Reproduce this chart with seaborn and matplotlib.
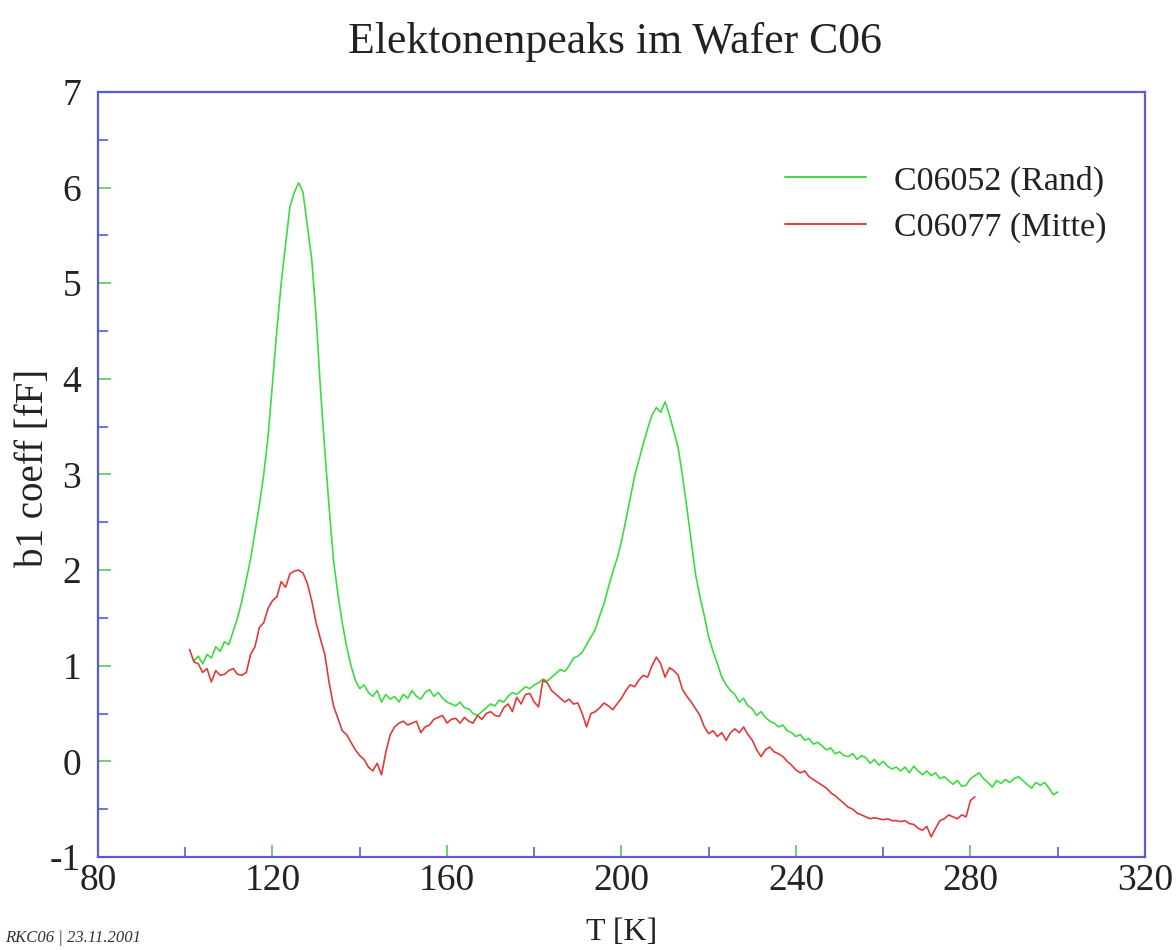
import numpy as np
import pandas as pd
import matplotlib
matplotlib.use("Agg")
import matplotlib.pyplot as plt
import seaborn as sns
from matplotlib.ticker import MultipleLocator

# ---- data ----
T_green = list(range(102, 301))
b1_green = [
    1.05, 1.10, 1.02, 1.12, 1.08, 1.20, 1.15, 1.25, 1.22, 1.36,   # 102-111
    1.50, 1.68, 1.90, 2.12, 2.40, 2.68, 3.00, 3.40, 3.95, 4.50,   # 112-121
    5.00, 5.40, 5.80, 5.95, 6.05, 5.95, 5.60, 5.25, 4.65, 3.90,   # 122-131
    3.25, 2.65, 2.10, 1.75, 1.45, 1.20, 1.00, 0.85, 0.76, 0.80,   # 132-141
    0.72, 0.68, 0.74, 0.62, 0.70, 0.65, 0.68, 0.62, 0.70, 0.66,   # 142-151
    0.74, 0.68, 0.65, 0.72, 0.75, 0.68, 0.72, 0.66, 0.62, 0.60,   # 152-161
    0.58, 0.62, 0.56, 0.55, 0.50, 0.48, 0.52, 0.56, 0.60, 0.58,   # 162-171
    0.64, 0.62, 0.68, 0.72, 0.70, 0.74, 0.78, 0.76, 0.80, 0.82,   # 172-181
    0.86, 0.84, 0.88, 0.92, 0.96, 0.94, 1.00, 1.08, 1.10, 1.14,   # 182-191
    1.22, 1.30, 1.38, 1.52, 1.65, 1.82, 1.98, 2.12, 2.30, 2.52,   # 192-201
    2.75, 2.98, 3.15, 3.32, 3.48, 3.62, 3.70, 3.65, 3.76, 3.62,   # 202-211
    3.45, 3.28, 2.98, 2.65, 2.30, 1.95, 1.72, 1.52, 1.30, 1.15,   # 212-221
    1.02, 0.88, 0.80, 0.74, 0.70, 0.62, 0.66, 0.58, 0.55, 0.48,   # 222-231
    0.52, 0.46, 0.42, 0.40, 0.36, 0.38, 0.32, 0.30, 0.26, 0.28,   # 232-241
    0.22, 0.24, 0.18, 0.20, 0.16, 0.12, 0.14, 0.08, 0.10, 0.06,   # 242-251
    0.05, 0.08, 0.02, 0.06, 0.04, -0.02, 0.02, -0.04, 0.00, -0.05,  # 252-261
    -0.08, -0.06, -0.10, -0.06, -0.12, -0.05, -0.10, -0.14, -0.10, -0.15,  # 262-271
    -0.12, -0.18, -0.16, -0.20, -0.24, -0.20, -0.26, -0.25, -0.18, -0.15,  # 272-281
    -0.12, -0.18, -0.22, -0.27, -0.20, -0.23, -0.19, -0.22, -0.18, -0.16,  # 282-291
    -0.20, -0.24, -0.28, -0.22, -0.25, -0.22, -0.28, -0.35, -0.32,         # 292-300
]

T_red = list(range(101, 282))
b1_red = [
    1.17, 1.04, 1.02, 0.93, 0.97, 0.83, 0.95, 0.90, 0.91, 0.95,   # 101-110
    0.97, 0.91, 0.90, 0.93, 1.12, 1.20, 1.40, 1.45, 1.60, 1.68,   # 111-120
    1.72, 1.88, 1.82, 1.96, 1.99, 2.00, 1.97, 1.86, 1.68, 1.45,   # 121-130
    1.28, 1.12, 0.82, 0.58, 0.45, 0.32, 0.28, 0.20, 0.12, 0.06,   # 131-140
    0.02, -0.06, -0.10, -0.02, -0.14, 0.10, 0.28, 0.36, 0.40, 0.42,  # 141-150
    0.38, 0.40, 0.42, 0.30, 0.36, 0.38, 0.44, 0.46, 0.48, 0.40,   # 151-160
    0.44, 0.45, 0.40, 0.46, 0.42, 0.40, 0.48, 0.44, 0.50, 0.52,   # 161-170
    0.48, 0.47, 0.56, 0.60, 0.52, 0.67, 0.60, 0.70, 0.71, 0.62,   # 171-180
    0.57, 0.85, 0.82, 0.74, 0.70, 0.66, 0.62, 0.65, 0.60, 0.61,   # 181-190
    0.50, 0.36, 0.50, 0.52, 0.56, 0.61, 0.58, 0.54, 0.60, 0.66,   # 191-200
    0.74, 0.80, 0.78, 0.85, 0.90, 0.88, 1.00, 1.09, 1.02, 0.88,   # 201-210
    0.98, 0.95, 0.90, 0.75, 0.68, 0.62, 0.55, 0.48, 0.36, 0.29,   # 211-220
    0.32, 0.26, 0.30, 0.22, 0.30, 0.34, 0.30, 0.36, 0.28, 0.22,   # 221-230
    0.12, 0.05, 0.12, 0.15, 0.10, 0.08, 0.05, 0.00, -0.04, -0.09,  # 231-240
    -0.12, -0.10, -0.16, -0.19, -0.22, -0.25, -0.28, -0.33, -0.36, -0.40,  # 241-250
    -0.44, -0.48, -0.50, -0.54, -0.56, -0.58, -0.60, -0.59, -0.60, -0.61,  # 251-260
    -0.60, -0.62, -0.62, -0.63, -0.62, -0.65, -0.66, -0.70, -0.72, -0.68,  # 261-270
    -0.79, -0.70, -0.62, -0.60, -0.56, -0.58, -0.60, -0.56, -0.58, -0.41,  # 271-280
    -0.37,                                                                  # 281
]

series_names = ["C06052 (Rand)", "C06077 (Mitte)"]
series_colors = ["#3ddc3d", "#e03a3a"]
title = "Elektonenpeaks im Wafer C06"
xlabel = "T [K]"
ylabel = "b1 coeff [fF]"
footnote = "RKC06 | 23.11.2001"

df = pd.concat([
    pd.DataFrame({"T": T_green, "b1": b1_green, "series": series_names[0]}),
    pd.DataFrame({"T": T_red, "b1": b1_red, "series": series_names[1]}),
], ignore_index=True)

# ---- style ----
sns.set_theme(style="white")
plt.rcParams["font.family"] = ["Liberation Serif", "DejaVu Serif"]
plt.rcParams["axes.unicode_minus"] = False

fig = plt.figure(figsize=(11.76, 9.5), dpi=100)
ax = fig.add_axes([0.0833, 0.0979, 0.8903, 0.8053])

sns.lineplot(data=df, x="T", y="b1", hue="series", palette=series_colors,
             hue_order=series_names, linewidth=1.2, ax=ax, sort=True,
             estimator=None)

ax.set_xlim(80, 320)
ax.set_ylim(-1, 7)
ax.xaxis.set_major_locator(MultipleLocator(40))
ax.xaxis.set_minor_locator(MultipleLocator(20))
ax.yaxis.set_major_locator(MultipleLocator(1))
ax.yaxis.set_minor_locator(MultipleLocator(0.5))

spine_col = "#5a5ad6"
for s in ax.spines.values():
    s.set_color(spine_col)
    s.set_linewidth(1.6)

ax.tick_params(axis="both", which="major", direction="in", length=9, width=1.2,
               color="#55cc55", labelsize=27, labelcolor="#222222",
               bottom=True, left=True, top=False, right=False)
ax.tick_params(axis="both", which="minor", direction="in", length=7, width=1.2,
               color=spine_col, bottom=True, left=True, top=False, right=False)
ax.tick_params(axis="x", which="major", pad=5)
ax.tick_params(axis="y", which="major", pad=12)

ax.set_xlabel(xlabel, fontsize=23, color="#222222")
ax.xaxis.set_label_coords(0.5, -0.08)
ax.set_ylabel(ylabel, fontsize=28, color="#222222")
ax.yaxis.set_label_coords(-0.044, 0.508)
fig.text(0.523, 0.956, title, ha="center", va="center", fontsize=31.5, color="#222222")

leg = ax.legend(loc="upper right", bbox_to_anchor=(0.963, 0.904), frameon=False,
                borderaxespad=0, borderpad=0,
                fontsize=24.5, handlelength=2.4, handletextpad=0.8, labelspacing=0.45)
for line in leg.get_lines():
    line.set_linewidth(1.4)
for t in leg.get_texts():
    t.set_color("#222222")

fig.text(0.004, 0.004, footnote, ha="left", va="bottom", fontsize=12,
         style="italic", color="#333333")

fig.savefig("out.png", dpi=100, facecolor="white")
